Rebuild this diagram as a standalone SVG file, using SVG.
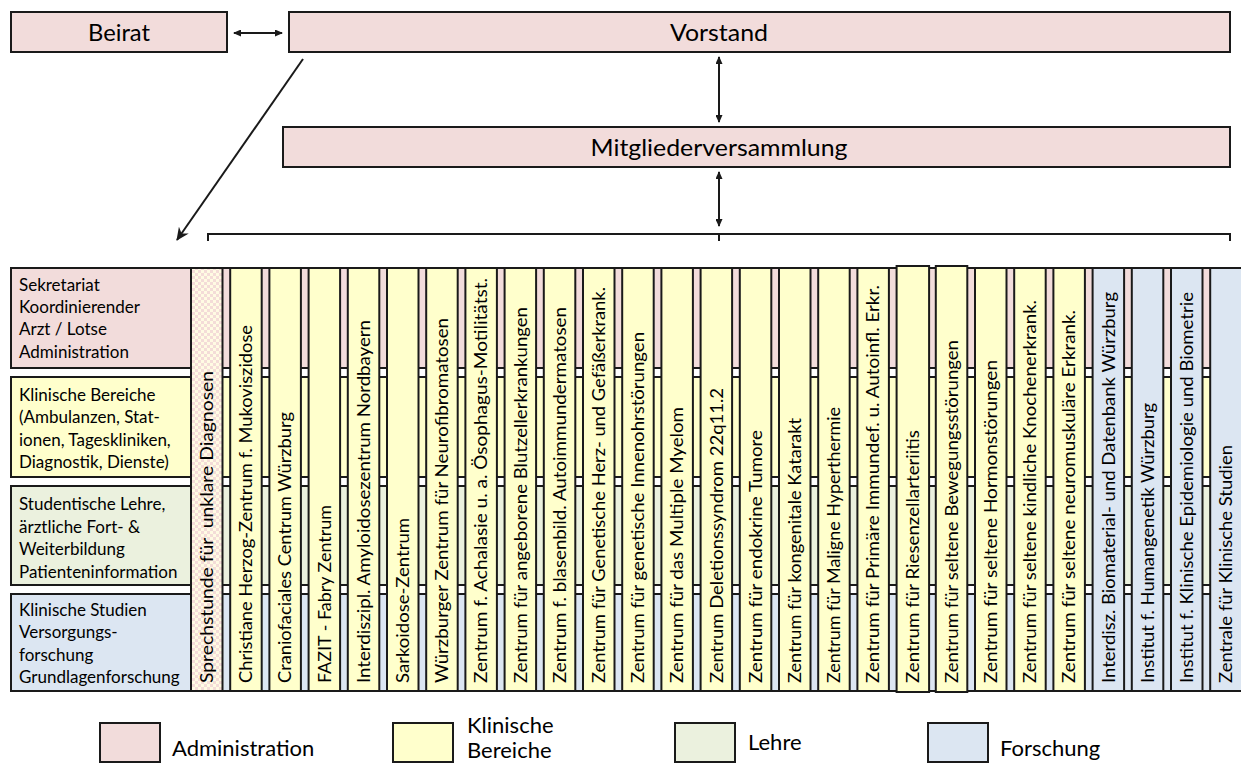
<svg xmlns="http://www.w3.org/2000/svg" width="1241" height="765" viewBox="0 0 1241 765">
<style>
text{font-family:Lato,"Liberation Sans",sans-serif;fill:#000}
.box{stroke:#1a1a1a;stroke-width:2}
.adm{fill:#f2dcdb}.kli{fill:#ffffcc}.leh{fill:#ebf1de}.for{fill:#dce6f2}
.top{font-size:24px;text-anchor:middle}
.row{font-size:17px}
.col{font-size:16.5px;white-space:pre}
.leg{font-size:22px}
.con{stroke:#1a1a1a;stroke-width:2;fill:none}
</style>
<defs>
<marker id="ah" viewBox="0 0 8 7" refX="7" refY="3.5" markerWidth="8" markerHeight="7" markerUnits="userSpaceOnUse" orient="auto-start-reverse"><path d="M0,0 L8,3.5 L0,7 z" fill="#1a1a1a"/></marker>
<marker id="ah2" viewBox="0 0 14 12" refX="12" refY="6" markerWidth="14" markerHeight="12" markerUnits="userSpaceOnUse" orient="auto"><path d="M0,0 L13,6 L0,12 L4,6 z" fill="#1a1a1a"/></marker>
<pattern id="chk" width="6" height="6" patternUnits="userSpaceOnUse"><rect width="6" height="6" fill="#fffbe3"/><rect width="3" height="3" fill="#f4dcd8"/><rect x="3" y="3" width="3" height="3" fill="#f4dcd8"/></pattern>
</defs>

<g id="beirat"><rect class="box adm" x="11" y="12" width="216" height="40"/><text class="top" x="119" y="41" textLength="62" lengthAdjust="spacingAndGlyphs">Beirat</text></g>
<g id="vorstand"><rect class="box adm" x="289" y="12" width="941" height="40"/><text class="top" x="719" y="41" textLength="98" lengthAdjust="spacingAndGlyphs">Vorstand</text></g>
<g id="mitglieder"><rect class="box adm" x="283" y="127" width="947" height="40"/><text class="top" x="719" y="156" textLength="257" lengthAdjust="spacingAndGlyphs">Mitgliederversammlung</text></g>

<g id="connectors">
<line class="con" x1="234" y1="33" x2="282" y2="33" marker-start="url(#ah)" marker-end="url(#ah)"/>
<line class="con" x1="719" y1="57" x2="719" y2="122" marker-start="url(#ah)" marker-end="url(#ah)"/>
<line class="con" x1="719" y1="172" x2="719" y2="226" marker-start="url(#ah)" marker-end="url(#ah)"/>
<line class="con" x1="303" y1="59" x2="177" y2="240" marker-end="url(#ah2)"/>
<path class="con" d="M208,241 V234 H1230 V241 M719,234 V241"/>
</g>

<g id="row-administration"><rect class="box adm" x="11" y="268" width="1240" height="100"/>
<text class="row" x="19" y="291">Sekretariat</text><text class="row" x="19" y="313">Koordinierender</text><text class="row" x="19" y="335">Arzt / Lotse</text><text class="row" x="19" y="358">Administration</text></g>
<g id="row-klinik"><rect class="box kli" x="11" y="377" width="1240" height="100"/>
<text class="row" x="19" y="401">Klinische Bereiche</text><text class="row" x="19" y="423">(Ambulanzen, Stat-</text><text class="row" x="19" y="446">ionen, Tageskliniken,</text><text class="row" x="19" y="468">Diagnostik, Dienste)</text></g>
<g id="row-lehre"><rect class="box leh" x="11" y="486" width="1240" height="99"/>
<text class="row" x="19" y="510">Studentische Lehre,</text><text class="row" x="19" y="533">ärztliche Fort- &amp;</text><text class="row" x="19" y="555">Weiterbildung</text><text class="row" x="19" y="578">Patienteninformation</text></g>
<g id="row-forschung"><rect class="box for" x="11" y="594" width="1240" height="97"/>
<text class="row" x="19" y="616">Klinische Studien</text><text class="row" x="19" y="638">Versorgungs-</text><text class="row" x="19" y="661">forschung</text><text class="row" x="19" y="683">Grundlagenforschung</text></g>

<g id="c0"><rect class="box" fill="url(#chk)" x="191" y="268" width="31.5" height="423"/><text class="col" transform="translate(213,683) rotate(-90)" textLength="312" lengthAdjust="spacingAndGlyphs">Sprechstunde für  unklare Diagnosen</text></g>
<g id="c1"><rect class="box kli" x="230.2" y="268" width="31.5" height="423"/><text class="col" transform="translate(252.2,683) rotate(-90)" textLength="358" lengthAdjust="spacingAndGlyphs">Christiane Herzog-Zentrum f. Mukoviszidose</text></g>
<g id="c2"><rect class="box kli" x="269.4" y="268" width="31.5" height="423"/><text class="col" transform="translate(291.4,683) rotate(-90)" textLength="271" lengthAdjust="spacingAndGlyphs">Craniofaciales Centrum Würzburg</text></g>
<g id="c3"><rect class="box kli" x="308.6" y="268" width="31.5" height="423"/><text class="col" transform="translate(330.6,683) rotate(-90)" textLength="178" lengthAdjust="spacingAndGlyphs">FAZIT - Fabry Zentrum</text></g>
<g id="c4"><rect class="box kli" x="347.8" y="268" width="31.5" height="423"/><text class="col" transform="translate(369.8,683) rotate(-90)" textLength="363" lengthAdjust="spacingAndGlyphs">Interdiszipl. Amyloidosezentrum Nordbayern</text></g>
<g id="c5"><rect class="box kli" x="387" y="268" width="31.5" height="423"/><text class="col" transform="translate(409,683) rotate(-90)" textLength="165" lengthAdjust="spacingAndGlyphs">Sarkoidose-Zentrum</text></g>
<g id="c6"><rect class="box kli" x="426.2" y="268" width="31.5" height="423"/><text class="col" transform="translate(448.2,683) rotate(-90)" textLength="365" lengthAdjust="spacingAndGlyphs">Würzburger Zentrum für Neurofibromatosen</text></g>
<g id="c7"><rect class="box kli" x="465.4" y="268" width="31.5" height="423"/><text class="col" transform="translate(487.4,683) rotate(-90)" textLength="405" lengthAdjust="spacingAndGlyphs">Zentrum f. Achalasie u. a. Ösophagus-Motilitätst.</text></g>
<g id="c8"><rect class="box kli" x="504.6" y="268" width="31.5" height="423"/><text class="col" transform="translate(526.6,683) rotate(-90)" textLength="376" lengthAdjust="spacingAndGlyphs">Zentrum für angeborene Blutzellerkrankungen</text></g>
<g id="c9"><rect class="box kli" x="543.8" y="268" width="31.5" height="423"/><text class="col" transform="translate(565.8,683) rotate(-90)" textLength="376" lengthAdjust="spacingAndGlyphs">Zentrum f. blasenbild. Autoimmundermatosen</text></g>
<g id="c10"><rect class="box kli" x="583" y="268" width="31.5" height="423"/><text class="col" transform="translate(605,683) rotate(-90)" textLength="396" lengthAdjust="spacingAndGlyphs">Zentrum für Genetische Herz- und Gefäßerkrank.</text></g>
<g id="c11"><rect class="box kli" x="622.2" y="268" width="31.5" height="423"/><text class="col" transform="translate(644.2,683) rotate(-90)" textLength="351" lengthAdjust="spacingAndGlyphs">Zentrum für genetische Innenohrstörungen</text></g>
<g id="c12"><rect class="box kli" x="661.4" y="268" width="31.5" height="423"/><text class="col" transform="translate(683.4,683) rotate(-90)" textLength="276" lengthAdjust="spacingAndGlyphs">Zentrum für das Multiple Myelom</text></g>
<g id="c13"><rect class="box kli" x="700.6" y="268" width="31.5" height="423"/><text class="col" transform="translate(722.6,683) rotate(-90)" textLength="295" lengthAdjust="spacingAndGlyphs">Zentrum Deletionssyndrom 22q11.2</text></g>
<g id="c14"><rect class="box kli" x="739.8" y="268" width="31.5" height="423"/><text class="col" transform="translate(761.8,683) rotate(-90)" textLength="253" lengthAdjust="spacingAndGlyphs">Zentrum für endokrine Tumore</text></g>
<g id="c15"><rect class="box kli" x="779" y="268" width="31.5" height="423"/><text class="col" transform="translate(801,683) rotate(-90)" textLength="265" lengthAdjust="spacingAndGlyphs">Zentrum für kongenitale Katarakt</text></g>
<g id="c16"><rect class="box kli" x="818.2" y="268" width="31.5" height="423"/><text class="col" transform="translate(840.2,683) rotate(-90)" textLength="276" lengthAdjust="spacingAndGlyphs">Zentrum für Maligne Hyperthermie</text></g>
<g id="c17"><rect class="box kli" x="857.4" y="268" width="31.5" height="423"/><text class="col" transform="translate(879.4,683) rotate(-90)" textLength="398" lengthAdjust="spacingAndGlyphs">Zentrum für Primäre Immundef. u. Autoinfl. Erkr.</text></g>
<g id="c18"><rect class="box kli" x="896.6" y="266" width="32.5" height="426" stroke-width="2.5"/><text class="col" transform="translate(918.6,683) rotate(-90)" textLength="253" lengthAdjust="spacingAndGlyphs">Zentrum für Riesenzellarteriitis</text></g>
<g id="c19"><rect class="box kli" x="935.8" y="266" width="31.5" height="426" stroke-width="2.5"/><text class="col" transform="translate(957.8,683) rotate(-90)" textLength="343" lengthAdjust="spacingAndGlyphs">Zentrum für seltene Bewegungsstörungen</text></g>
<g id="c20"><rect class="box kli" x="975" y="268" width="31.5" height="423"/><text class="col" transform="translate(997,683) rotate(-90)" textLength="323" lengthAdjust="spacingAndGlyphs">Zentrum für seltene Hormonstörungen</text></g>
<g id="c21"><rect class="box kli" x="1014.2" y="268" width="31.5" height="423"/><text class="col" transform="translate(1036.2,683) rotate(-90)" textLength="383" lengthAdjust="spacingAndGlyphs">Zentrum für seltene kindliche Knochenerkrank.</text></g>
<g id="c22"><rect class="box kli" x="1053.4" y="268" width="31.5" height="423"/><text class="col" transform="translate(1075.4,683) rotate(-90)" textLength="373" lengthAdjust="spacingAndGlyphs">Zentrum für seltene neuromuskuläre Erkrank.</text></g>
<g id="c23"><rect class="box for" x="1092.6" y="268" width="31.5" height="423"/><text class="col" transform="translate(1114.6,683) rotate(-90)" textLength="391" lengthAdjust="spacingAndGlyphs">Interdisz. Biomaterial- und Datenbank Würzburg</text></g>
<g id="c24"><rect class="box for" x="1131.8" y="268" width="31.5" height="423"/><text class="col" transform="translate(1153.8,683) rotate(-90)" textLength="280" lengthAdjust="spacingAndGlyphs">Institut f. Humangenetik Würzburg</text></g>
<g id="c25"><rect class="box for" x="1171" y="268" width="31.5" height="423"/><text class="col" transform="translate(1193,683) rotate(-90)" textLength="391" lengthAdjust="spacingAndGlyphs">Institut f. Klinische Epidemiologie und Biometrie</text></g>
<g id="c26"><rect class="box for" x="1210.2" y="268" width="36" height="423"/><text class="col" transform="translate(1232.2,683) rotate(-90)" textLength="238" lengthAdjust="spacingAndGlyphs">Zentrale für Klinische Studien</text></g>

<g id="legend-administration"><rect class="box adm" x="100" y="723" width="60" height="39"/><text class="leg" x="172" y="756">Administration</text></g>
<g id="legend-klinik"><rect class="box kli" x="393" y="723" width="60" height="39"/><text class="leg" x="467" y="733">Klinische</text><text class="leg" x="467" y="758">Bereiche</text></g>
<g id="legend-lehre"><rect class="box leh" x="675" y="723" width="60" height="39"/><text class="leg" x="748" y="750">Lehre</text></g>
<g id="legend-forschung"><rect class="box for" x="928" y="723" width="60" height="39"/><text class="leg" x="1000" y="756">Forschung</text></g>
</svg>
